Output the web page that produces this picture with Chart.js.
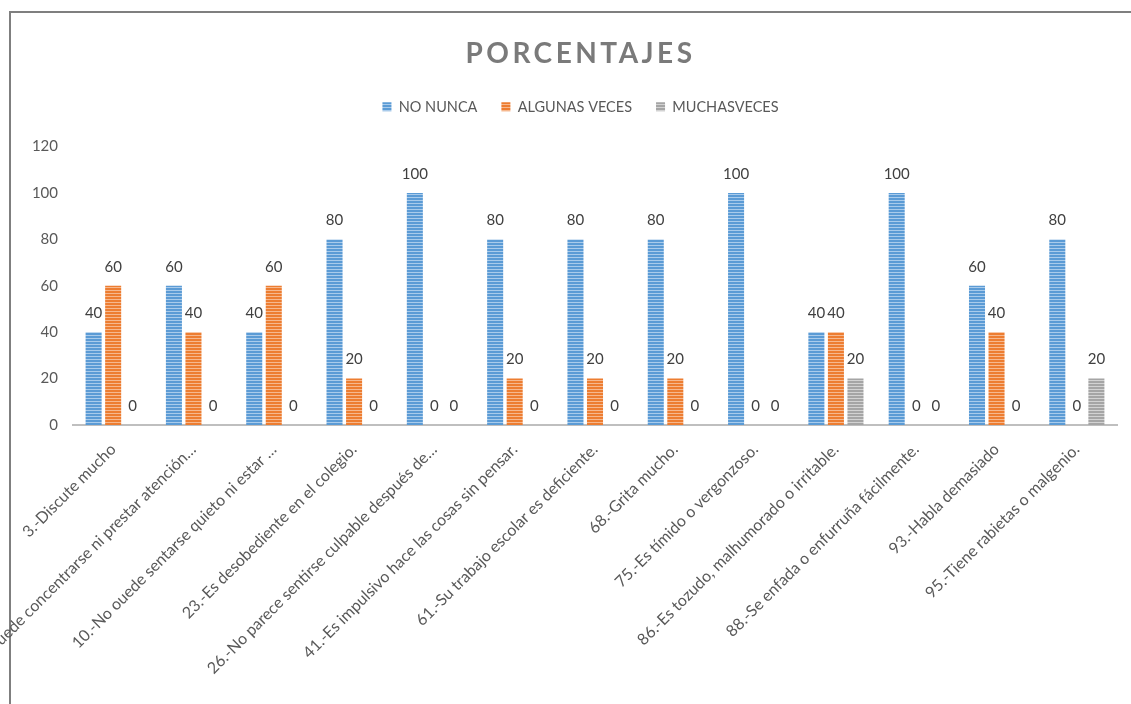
<!DOCTYPE html>
<html>
<head>
<meta charset="utf-8">
<script src="https://cdn.jsdelivr.net/npm/chart.js@4"></script>
<style>
  body { margin: 0; background: #fff; }
  canvas { display: block; }
</style>
</head>
<body>
<canvas id="porcentajesChart" width="1131" height="704"></canvas>
<script>
// ── Data ─────────────────────────────────────────────────────────────────────
const categories = [
    '3.-Discute mucho',
    '8.-No puede concentrarse ni prestar atención…',
    '10.-No ouede sentarse quieto ni estar …',
    '23.-Es desobediente en el colegio.',
    '26.-No parece sentirse culpable después de…',
    '41.-Es impulsivo hace las cosas sin pensar.',
    '61.-Su trabajo escolar es deficiente.',
    '68.-Grita mucho.',
    '75.-Es tímido o vergonzoso.',
    '86.-Es tozudo, malhumorado o irritable.',
    '88.-Se enfada o enfurruña fácilmente.',
    '93.-Habla demasiado',
    '95.-Tiene rabietas o malgenio.'
];
const seriesNames = ['NO NUNCA', 'ALGUNAS VECES', 'MUCHASVECES'];
const noNunca      = [40, 60, 40, 80, 100, 80, 80, 80, 100, 40, 100, 60, 80];
const algunasVeces = [60, 40, 60, 20,   0, 20, 20, 20,   0, 40,   0, 40,  0];
const muchasVeces  = [ 0,  0,  0,  0,   0,  0,  0,  0,   0, 20,   0,  0, 20];
const yMin = 0, yMax = 120, yStep = 20;

const FONT = 'Lato, "Open Sans", sans-serif';

// horizontal stripe fill like the Excel pattern
function stripes(base, light) {
    const c = document.createElement('canvas');
    c.width = 4; c.height = 3;
    const x = c.getContext('2d');
    x.fillStyle = base;
    x.fillRect(0, 0, 4, 3);
    x.fillStyle = light;
    x.fillRect(0, 2, 4, 1);
    return x.createPattern(c, 'repeat');
}

// ── Plugins ──────────────────────────────────────────────────────────────────
const framePlugin = {
    id: 'frame',
    beforeDraw(chart) {
        const ctx = chart.ctx;
        ctx.save();
        ctx.fillStyle = '#fff';
        ctx.fillRect(0, 0, chart.width, chart.height);
        ctx.strokeStyle = '#7f7f7f';
        ctx.lineWidth = 2;
        ctx.beginPath();
        ctx.moveTo(10, chart.height);
        ctx.lineTo(10, 12);
        ctx.lineTo(chart.width, 12);
        ctx.stroke();
        ctx.restore();
    }
};

const valueLabels = {
    id: 'valueLabels',
    afterDatasetsDraw(chart) {
        const ctx = chart.ctx;
        ctx.save();
        ctx.font = '15px ' + FONT;
        ctx.fillStyle = '#404040';
        ctx.textAlign = 'center';
        ctx.textBaseline = 'middle';
        chart.data.datasets.forEach((ds, i) => {
            chart.getDatasetMeta(i).data.forEach((bar, j) => {
                ctx.fillText(String(ds.data[j]), bar.x, bar.y - 19);
            });
        });
        ctx.restore();
    }
};

// title + legend sit centred on the (wider) original frame, a bit right of the canvas centre
const headerTweaks = {
    id: 'headerTweaks',
    afterInit(chart) {
        const shift = 22;
        const t = chart.titleBlock;
        const origDraw = t.draw.bind(t);
        t.draw = function () {
            chart.ctx.save();
            chart.ctx.letterSpacing = '3.5px';
            chart.ctx.translate(shift, 0);
            origDraw();
            chart.ctx.restore();
        };
        const lg = chart.legend;
        const origFit = lg.fit.bind(lg);
        lg.fit = function () {
            origFit();
            this.height = 71;
        };
        const origLgDraw = lg.draw.bind(lg);
        lg.draw = function () {
            chart.ctx.save();
            chart.ctx.translate(shift, 0);
            origLgDraw();
            chart.ctx.restore();
        };
    }
};

// ── Chart ────────────────────────────────────────────────────────────────────
new Chart(document.getElementById('porcentajesChart').getContext('2d'), {
    type: 'bar',
    data: {
        labels: categories,
        datasets: [
            { label: seriesNames[0], data: noNunca, backgroundColor: stripes('#5B9BD5', '#A9CBEB') },
            { label: seriesNames[1], data: algunasVeces, backgroundColor: stripes('#ED7D31', '#F6B88E') },
            { label: seriesNames[2], data: muchasVeces, backgroundColor: stripes('#A5A5A5', '#D2D2D2') }
        ]
    },
    options: {
        responsive: false,
        animation: false,
        devicePixelRatio: 1,
        categoryPercentage: 0.73,
        barPercentage: 0.82,
        layout: { padding: { top: 37, right: 14, left: 0, bottom: 0 } },
        plugins: {
            title: {
                display: true,
                text: 'PORCENTAJES',
                color: '#7a7a7a',
                font: { family: FONT, size: 28, weight: 'bold' },
                padding: { top: 0, bottom: 5 }
            },
            legend: {
                position: 'top',
                labels: {
                    color: '#595959',
                    font: { family: FONT, size: 14.5 },
                    boxWidth: 9,
                    boxHeight: 9,
                    padding: 24
                }
            },
            tooltip: { enabled: false }
        },
        scales: {
            x: {
                grid: { display: false, drawTicks: false },
                border: { display: true, color: '#bfbfbf', width: 2 },
                ticks: {
                    autoSkip: false,
                    maxRotation: 45,
                    minRotation: 45,
                    padding: 15,
                    color: '#595959',
                    font: { family: FONT, size: 16 }
                },
                afterFit(scale) { scale.height = 279; }
            },
            y: {
                min: yMin,
                max: yMax,
                grid: { display: false, drawTicks: false },
                border: { display: false },
                ticks: {
                    stepSize: yStep,
                    padding: 15,
                    color: '#595959',
                    font: { family: FONT, size: 15 }
                },
                afterFit(scale) { scale.width = 73; }
            }
        }
    },
    plugins: [framePlugin, valueLabels, headerTweaks]
});
</script>
</body>
</html>
